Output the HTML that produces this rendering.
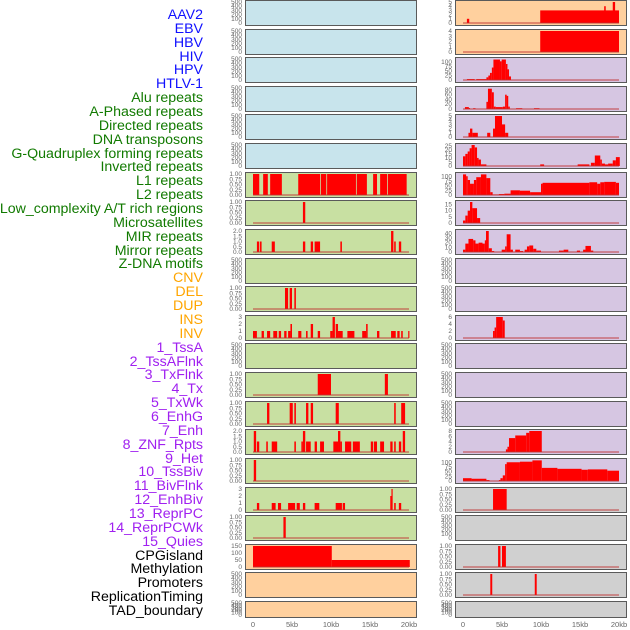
<!DOCTYPE html>
<html><head><meta charset="utf-8">
<style>
html,body{margin:0;padding:0;background:#fff;}
#wrap{position:relative;width:630px;height:630px;overflow:hidden;font-family:"Liberation Sans",sans-serif;}
.lab{position:absolute;right:427px;font-size:14.2px;line-height:14px;white-space:nowrap;}
svg{position:absolute;left:0;top:0;}
</style></head>
<body>
<div id="wrap">
<div id="labels"></div>
<svg id="chart" width="630" height="630"></svg>
</div>
<script>
const trackLabels = ["AAV2","EBV","HBV","HIV","HPV","HTLV-1","Alu repeats","A-Phased repeats","Directed repeats","DNA transposons","G-Quadruplex forming repeats","Inverted repeats","L1 repeats","L2 repeats","Low_complexity A/T rich regions","Microsatellites","MIR repeats","Mirror repeats","Z-DNA motifs","CNV","DEL","DUP","INS","INV","1_TssA","2_TssAFlnk","3_TxFlnk","4_Tx","5_TxWk","6_EnhG","7_Enh","8_ZNF_Rpts","9_Het","10_TssBiv","11_BivFlnk","12_EnhBiv","13_ReprPC","14_ReprPCWk","15_Quies","CPGisland","Methylation","Promoters","ReplicationTiming","TAD_boundary"];
const labelGroups = [6,13,5,15,5];
const xTicks = [0,5,10,15,20];
const xTickLabels = ["0","5kb","10kb","15kb","20kb"];

const c1r6 = [[0,0.8,1],[1.3,1.9,1],[2.2,3.7,1],[5.8,8.6,1],[8.7,9.4,1],[9.5,13.2,1],[13.3,14.6,1],[15.4,15.9,1],[16.3,17.2,1],[17.3,19.7,1]];
const c1r7 = [[6.4,6.7,1]];
const c1r8 = [[0.5,0.8,1],[0.9,1.1,1],[2.4,2.8,1],[6.4,6.7,1],[7.4,7.7,1],[7.9,8.6,1],[11.2,11.4,1],[17.7,18.0,2],[18.1,18.3,1],[18.7,19.0,1]];
const c1r10 = [[4.1,4.5,1],[4.7,5.0,1],[5.3,5.5,1]];
const c1r11 = [[0,0.5,1],[1.1,1.4,1],[1.8,2.2,1],[2.6,3.1,1],[3.3,3.6,1],[4.0,4.3,1],[4.5,4.8,1],[4.8,5.0,2],[5.8,6.2,1],[6.8,7.0,1],[7.4,7.7,2],[8.3,8.6,1],[9.9,10.2,1],[10.2,10.5,3],[10.6,10.9,2],[10.9,11.5,1],[12.1,13.0,1],[14.0,14.5,1],[14.5,14.7,2],[15.9,16.2,1],[17.7,18.3,1],[18.5,18.8,1],[19.0,19.2,1],[19.9,20.0,1]];
const c1r13 = [[8.3,10.0,1],[16.9,17.3,1]];
const c1r14 = [[1.8,2.1,1],[4.7,5.1,1],[5.3,5.5,1],[6.8,7.1,1],[7.4,7.7,1],[10.6,11.0,1],[18.1,18.3,1],[19.0,19.5,1]];
const c1r15 = [[0.1,0.4,2],[0.5,0.8,1],[1.7,1.9,1],[2.4,3.1,1],[5.3,5.5,1],[6.2,6.4,1],[6.4,6.7,2],[6.8,7.4,1],[7.9,8.2,1],[8.6,9.1,1],[10.3,10.9,1],[10.9,11.2,2],[11.2,11.4,1],[11.8,12.6,1],[12.8,13.7,1],[15.1,15.4,1],[15.5,15.9,1],[16.3,16.8,1],[17.6,17.9,1],[18.1,18.3,1],[18.7,19.0,1],[19.2,19.5,2]];
const c1r16 = [[0.1,0.4,1]];
const c1r17 = [[0.5,0.8,1],[2.4,2.9,1],[3.2,3.6,1],[4.5,5.4,1],[5.6,6.0,1],[6.4,6.7,1],[7.9,8.5,1],[10.6,11.4,1],[11.5,11.8,1],[17.6,17.75,2],[17.75,17.9,3],[18.1,18.3,1],[18.7,19.0,1]];
const c1r18 = [[3.9,4.2,1]];
const c1r19 = [[0,10.1,150],[10.1,20.1,50]];

const c2r0 = [[0.5,0.8,1],[9.9,20.0,3],[18.1,18.3,4],[19.2,19.5,5]];
const c2r1 = [[9.9,20.0,4]];
const c2r2 = [[0.5,1.5,5],[1.7,3.0,5],[3.0,3.25,15],[3.25,3.46,25],[3.46,3.7,40],[3.7,3.9,70],[3.9,4.74,115],[4.74,4.96,105],[4.96,5.5,115],[5.5,5.7,90],[5.7,5.9,60],[5.9,6.15,20]];
const c2r3 = [[0.25,0.75,8],[0.75,0.9,4],[1.3,1.6,3],[3.0,3.2,30],[3.2,3.7,85],[3.7,3.95,70],[3.95,4.2,10],[4.2,5.1,8],[5.1,5.4,10],[5.4,5.6,60],[5.6,5.8,55],[5.8,6.0,10],[6.8,7.6,3],[9.1,9.8,3]];
const c2r4 = [[0.7,0.9,1],[0.9,1.2,2],[1.2,1.9,1],[3.1,3.5,1],[3.85,4.1,2],[4.1,5.0,5],[5.0,5.4,3],[5.4,5.8,1]];
const c2r5 = [[0,0.3,12],[0.3,0.6,15],[0.6,0.85,18],[0.85,1.1,22],[1.1,1.5,26],[1.5,1.8,23],[1.8,2.0,10],[2.0,2.3,8],[2.3,3.0,2],[9.9,10.4,2],[14.7,16.2,2],[16.4,16.9,4],[16.9,17.6,13],[17.6,17.8,8],[17.8,18.2,3],[18.2,18.6,2],[18.6,19.2,3],[19.2,19.6,7],[19.6,20.1,11]];
const c2r6 = [[0,0.4,110],[0.4,0.6,100],[0.6,0.9,80],[0.9,1.4,60],[1.4,1.7,80],[1.7,2.3,95],[2.3,3.0,110],[3.0,3.5,90],[3.5,3.8,15],[3.8,4.6,2],[4.6,5.3,5],[5.3,6.1,7],[6.1,7.3,25],[7.3,8.6,23],[8.6,10.0,15],[10.0,10.2,60],[10.2,16.2,65],[16.2,17.2,68],[17.2,17.6,60],[17.6,18.1,68],[18.1,19.6,70],[19.6,20.0,65]];
const c2r7 = [[0,0.3,2],[0.3,0.6,6],[0.6,0.9,10],[0.9,1.2,17],[1.2,1.8,12],[1.8,2.2,4]];
const c2r8 = [[0,0.3,5],[0.3,0.7,18],[0.7,1.3,28],[1.3,1.6,25],[1.6,2.0,18],[2.0,2.5,20],[2.5,2.8,18],[2.8,2.95,25],[2.95,3.3,45],[3.3,3.7,8],[3.7,4.0,2],[4.96,5.4,5],[5.4,5.6,12],[5.6,6.1,38],[6.1,6.4,5],[6.7,7.3,5],[7.3,7.7,2],[7.9,8.2,5],[8.2,8.5,12],[8.5,9.0,14],[9.0,9.4,7],[9.4,10.0,3],[12.3,12.9,3],[12.9,13.5,5],[14.6,15.0,3],[15.4,15.7,5],[15.7,16.4,13],[16.4,16.7,3]];
const c2r11 = [[3.85,4.05,2],[4.05,4.25,3],[4.25,5.1,6],[5.1,5.35,5]];
const c2r15 = [[5.5,5.7,1],[5.7,5.9,2],[5.9,6.7,5.3],[6.7,8.1,6.3],[8.1,8.5,7.3],[8.5,10.1,8]];
const c2r16 = [[0,1.1,15],[1.1,3.0,12],[3.0,3.4,5],[4.6,4.8,5],[4.8,5.1,15],[5.1,5.4,30],[5.4,5.6,90],[5.6,7.3,100],[7.3,8.9,103],[8.9,10.1,110],[10.1,12.1,70],[12.1,15.2,65],[15.2,16.0,60],[16.0,18.5,62],[18.5,20.0,55]];
const c2r17 = [[3.85,5.6,1]];
const c2r19 = [[4.5,4.8,1],[5.0,5.5,1]];
const c2r20 = [[3.5,3.75,1],[9.2,9.45,1]];

const ticksEmpty = [0,100,200,300,400,500];
const ticksUnit = [0,0.25,0.5,0.75,1];
const ticksTwo = [0,0.5,1,1.5,2];
const ticksThree = [0,1,2,3];

const BLUE="#c8e4ec",GREEN="#c8e0a2",ORANGE="#ffd09e",PURPLE="#d6c6e2",GRAY="#d0d0d0";
const panels = [];
for(let r=0;r<22;r++){
  let bg1 = r<6?BLUE:(r<19?GREEN:ORANGE);
  let bg2 = r<2?ORANGE:(r<17?PURPLE:GRAY);
  panels.push([0,r,null,500,ticksEmpty,0,bg1]);
  panels.push([1,r,null,500,ticksEmpty,0,bg2]);
}
function setP(c,r,d,m,t,dec){const p=panels[r*2+c];p[2]=d;p[3]=m;p[4]=t;p[5]=dec;}
setP(0,6,c1r6,1,ticksUnit,2);setP(0,7,c1r7,1,ticksUnit,2);setP(0,8,c1r8,2,ticksTwo,1);
setP(0,10,c1r10,1,ticksUnit,2);setP(0,11,c1r11,3,ticksThree,0);setP(0,13,c1r13,1,ticksUnit,2);
setP(0,14,c1r14,1,ticksUnit,2);setP(0,15,c1r15,2,ticksTwo,1);setP(0,16,c1r16,1,ticksUnit,2);
setP(0,17,c1r17,3,ticksThree,0);setP(0,18,c1r18,1,ticksUnit,2);setP(0,19,c1r19,150,[0,50,100,150],0);
setP(1,0,c2r0,5,[0,1,2,3,4,5],0);setP(1,1,c2r1,4,[0,1,2,3,4],0);setP(1,2,c2r2,118,[0,25,50,75,100],0);
setP(1,3,c2r3,88,[0,20,40,60,80],0);setP(1,4,c2r4,5,[0,1,2,3,4,5],0);setP(1,5,c2r5,26,[0,5,10,15,20,25],0);
setP(1,6,c2r6,112,[0,25,50,75,100],0);setP(1,7,c2r7,17,[0,5,10,15],0);setP(1,8,c2r8,45,[0,10,20,30,40],0);
setP(1,11,c2r11,6,[0,2,4,6],0);setP(1,15,c2r15,8,[0,2,4,6,8],0);setP(1,16,c2r16,112,[0,25,50,75,100],0);
setP(1,17,c2r17,1,ticksUnit,2);setP(1,19,c2r19,1,ticksUnit,2);setP(1,20,c2r20,1,ticksUnit,2);

const NS="http://www.w3.org/2000/svg";
const svg=document.getElementById('chart');
function mk(tag,attrs,parent){const e=document.createElementNS(NS,tag);for(const k in attrs)e.setAttribute(k,attrs[k]);(parent||svg).appendChild(e);return e;}
const colX=[245,455], colW=171, x0=[253,463], pxPerKb=7.8;
function xScale(c,kb){return x0[c]+kb*pxPerKb;}
function panelTop(r){return Math.round(r*28.62);}
function panelH(r){return r==21?16:25;}
function yScale(r,m,v){const t=panelTop(r),h=panelH(r);const yb=t+h-2,yt=t+2;return yb-(v/m)*(yb-yt);}

const labDiv=document.getElementById('labels');
const gColors=["#1010ff","#117a00","#ffa500","#a020f0","#000"];
let gi=0,cnt=0;
trackLabels.forEach((t,i)=>{
  while(cnt>=labelGroups[gi]){cnt-=labelGroups[gi];gi++;}
  cnt++;
  const d=document.createElement('div');
  d.className='lab';d.textContent=t;
  d.style.top=(8+i*13.86)+'px';d.style.color=gColors[gi];
  
  
  labDiv.appendChild(d);
});

panels.forEach(p=>{
  const [c,r,data,m,ticks,dec,bg]=p;
  const t=panelTop(r),h=panelH(r);
  const g=mk('g',{});
  
  
  const bgr=mk('rect',{x:colX[c]+0.5,y:t+0.5,width:colW,height:h,fill:bg,stroke:'#5a5a5a','stroke-width':1},g);
  
  
  ticks.forEach(v=>{
    const tx=mk('text',{x:colX[c]-3,y:yScale(r,m,v)+2,'font-size':'6.5','text-anchor':'end',fill:'#666','font-family':'Liberation Sans, sans-serif'},g);
    tx.textContent=v.toFixed(dec);
    
    
  });
  if(data){
    data.forEach(s=>{
      const xa=xScale(c,s[0]),xb=xScale(c,s[1]),y=yScale(r,m,s[2]),yb=yScale(r,m,0);
      const b=mk('rect',{x:xa,y:y,width:Math.max(1.2,xb-xa),height:yb-y,fill:'#ff0000'},g);
      
      
    });
    const yb=yScale(r,m,0);
    const ln=mk('line',{x1:xScale(c,0),x2:xScale(c,20),y1:yb,y2:yb,stroke:'#c03030','stroke-width':1.5,'stroke-opacity':0.6},g);
    
    
  }
});
[0,1].forEach(c=>{
  xTicks.forEach((v,i)=>{
    const tx=mk('text',{x:xScale(c,v),y:627,'font-size':'7.5','text-anchor':'middle',fill:'#666','font-family':'Liberation Sans, sans-serif'});
    tx.textContent=xTickLabels[i];
    
    
  });
});
</script>
</body></html>
